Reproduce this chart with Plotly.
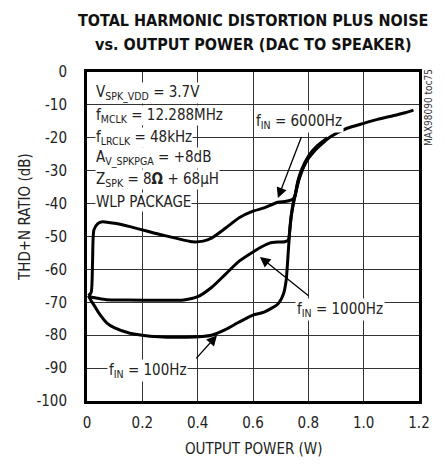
import plotly.graph_objects as go

# ---- data ----
p_6000 = [0.005, 0.015, 0.02, 0.025, 0.04, 0.056, 0.1, 0.155, 0.26, 0.32, 0.38, 0.42, 0.45, 0.5, 0.55, 0.6, 0.64, 0.69, 0.72, 0.745,
          0.752, 0.763, 0.78, 0.8, 0.82, 0.85, 0.88, 0.94, 1.0, 1.05, 1.106, 1.15, 1.18]
db_6000 = [-68, -67, -58, -48, -46, -45.5, -46, -47, -49.3, -50.5, -51.6, -51.4, -50.5, -47.5, -44.3, -42.3, -41.3, -39.6, -39.3, -38.6,
           -37.5, -33.3, -29.3, -26.3, -24.2, -21.8, -19.7, -17.1, -15.6, -14.4, -13.3, -12.4, -11.6]

p_1000 = [0.005, 0.015, 0.04, 0.07, 0.15, 0.26, 0.35, 0.4, 0.45, 0.5, 0.55, 0.6, 0.63, 0.66, 0.69, 0.715, 0.728, 0.733, 0.738, 0.745,
          0.752, 0.762, 0.775, 0.8, 0.83, 0.87]
db_1000 = [-68, -68.4, -68.8, -69.2, -69.3, -69.4, -69.3, -68.3, -65.5, -61.5, -57.5, -54.7, -53.2, -52, -51.7, -51.6, -51, -48, -44, -40.5,
           -37.6, -33.2, -29.8, -25.6, -22.6, -20.0]

p_100 = [0.005, 0.015, 0.03, 0.043, 0.072, 0.1, 0.155, 0.26, 0.36, 0.45, 0.5, 0.55, 0.6, 0.64, 0.69, 0.71, 0.72, 0.728, 0.735, 0.745,
         0.755, 0.768, 0.79, 0.82, 0.86]
db_100 = [-68, -69.5, -71.5, -73.3, -76.3, -77.8, -79.4, -80.5, -80.6, -80, -78.3, -76, -73.9, -73, -70.5, -67.5, -63.2, -54, -46, -40,
          -36.5, -32.2, -27.6, -23.7, -20.9]

x_ticks = [0, 0.2, 0.4, 0.6, 0.8, 1.0, 1.2]
x_tick_text = ["0", "0.2", "0.4", "0.6", "0.8", "1.0", "1.2"]
y_ticks = [0, -10, -20, -30, -40, -50, -60, -70, -80, -90, -100]
y_tick_text = ["0", "-10", "-20", "-30", "-40", "-50", "-60", "-70", "-80", "-90", "-100"]

cond_lines = ["V<sub>SPK_VDD</sub> = 3.7V",
              "f<sub>MCLK</sub> = 12.288MHz",
              "f<sub>LRCLK</sub> = 48kHz",
              "A<sub>V_SPKPGA</sub> = +8dB",
              "Z<sub>SPK</sub> = 8<b>Ω</b> + 68µH",
              "WLP PACKAGE"]
cond_y = [-6.4, -13.1, -19.8, -26.1, -32.8, -39.5]

FONT = "Liberation Sans Narrow, Arial Narrow, DejaVu Sans Condensed, sans-serif"

# page has an 8px body margin; plot area in page pixels: 87..419 x 72..401
W, H = 437, 457
L, R, T, B = 79, 26, 64, 64
PX0, PX1, PY0, PY1 = 87, 419, 72, 401


def paper(px, py):
    return (px - PX0) / (PX1 - PX0), (PY1 - py) / (PY1 - PY0)


fig = go.Figure()
for px_, py_ in [(p_6000, db_6000), (p_1000, db_1000), (p_100, db_100)]:
    fig.add_trace(go.Scatter(x=px_, y=py_, mode="lines",
                             line=dict(color="black", width=3, shape="spline", smoothing=0.6),
                             showlegend=False, hoverinfo="skip"))

ann = []
for t, yy in zip(cond_lines, cond_y):
    ann.append(dict(x=0.03, y=yy, xref="x", yref="y", text=t, showarrow=False,
                    xanchor="left", yanchor="middle", bgcolor="white",
                    font=dict(family=FONT, size=15, color="#222"), borderpad=0))

labels = [("f<sub>IN</sub> = 6000Hz", 0.766, -15.0, 0.69, -38.3, 0.777, -19.3),
          ("f<sub>IN</sub> = 1000Hz", 0.914, -72.3, 0.625, -56.2, 0.806, -68.4),
          ("f<sub>IN</sub> = 100Hz", 0.22, -90.6, 0.47, -80.0, 0.39, -87.5)]
for t, tx, ty, hx, hy, sx, sy in labels:
    ann.append(dict(x=hx, y=hy, ax=sx, ay=sy, xref="x", yref="y", axref="x", ayref="y",
                    text="", showarrow=True, arrowhead=2, arrowsize=1.6, arrowwidth=1.3,
                    arrowcolor="black"))
    ann.append(dict(x=tx, y=ty, xref="x", yref="y", text=t, showarrow=False,
                    xanchor="center", yanchor="middle",
                    bgcolor="white", font=dict(family=FONT, size=15, color="#222"), borderpad=1))


def free_text(text, px, py, size, angle=0, bold=False, color="#222"):
    x, y = paper(px, py)
    return dict(x=x, y=y, xref="paper", yref="paper", showarrow=False, textangle=angle,
                xanchor="center", yanchor="middle",
                text=f"<b>{text}</b>" if bold else text,
                font=dict(family=FONT, size=size, color=color))


ann.append(free_text("MAX98090 toc75", 428, 107, 10, angle=-90, color="#333"))
ann.append(free_text("TOTAL HARMONIC DISTORTION PLUS NOISE", 253, 20, 16, bold=True, color="#111"))
ann.append(free_text("vs. OUTPUT POWER (DAC TO SPEAKER)", 253, 44, 16, bold=True, color="#111"))
ann.append(free_text("THD+N RATIO (dB)", 25, 217, 15, angle=-90))
ann.append(free_text("OUTPUT POWER (W)", 253, 449, 15))

fig.update_layout(
    width=W, height=H, margin=dict(l=L, r=R, t=T, b=B, autoexpand=False),
    paper_bgcolor="white", plot_bgcolor="white",
    font=dict(family=FONT, size=15, color="#222"),
    annotations=ann,
    xaxis=dict(range=[0, 1.2], tickvals=x_ticks, ticktext=x_tick_text, showgrid=True,
               gridcolor="#333", gridwidth=1.3, zeroline=False, showline=True, linecolor="black",
               linewidth=3, mirror=True, ticks="", ticklabelstandoff=6, automargin=False),
    yaxis=dict(range=[-100, 0], tickvals=y_ticks, ticktext=y_tick_text, showgrid=True,
               gridcolor="#333", gridwidth=1.3, zeroline=False, showline=True, linecolor="black",
               linewidth=3, mirror=True, ticks="", ticklabelstandoff=14, automargin=False),
)
fig.write_html("out.html")
